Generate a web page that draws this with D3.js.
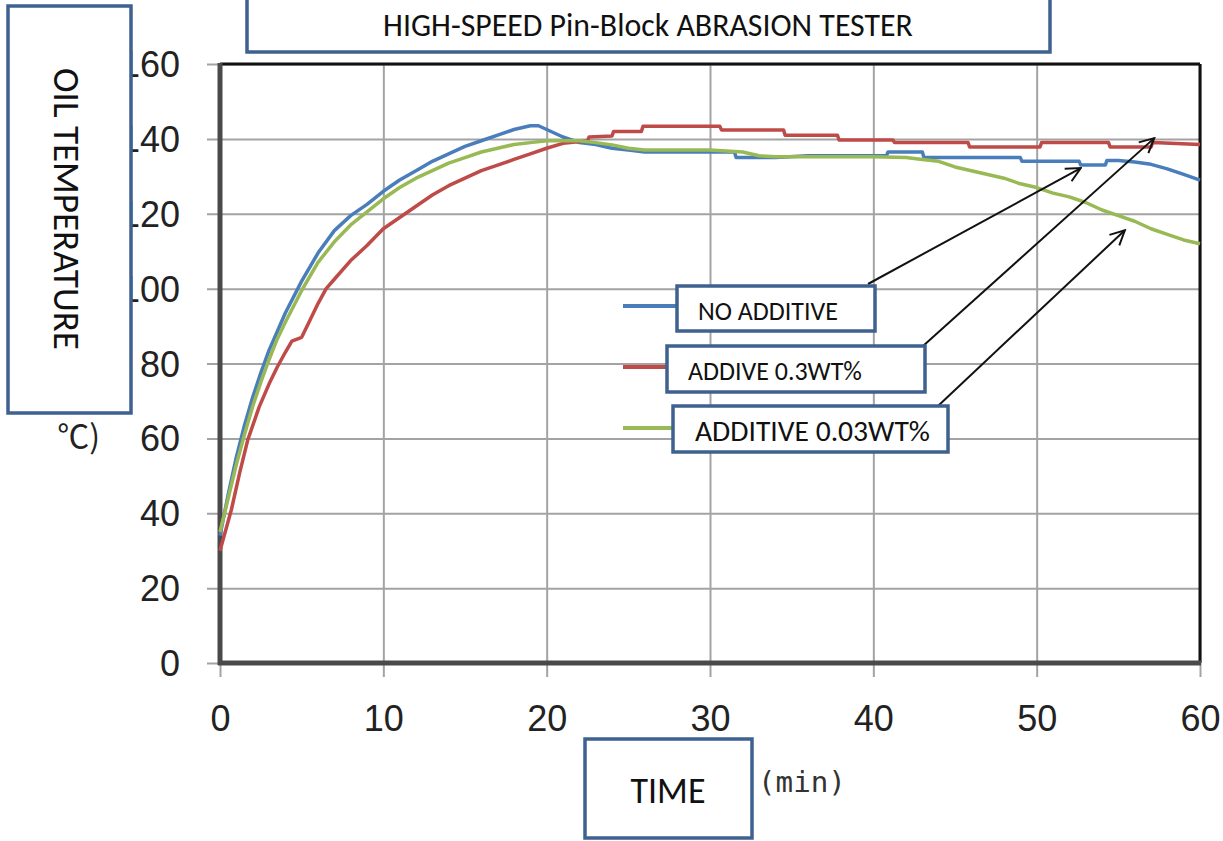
<!DOCTYPE html>
<html>
<head>
<meta charset="utf-8">
<script src="https://cdn.jsdelivr.net/npm/d3@7"></script>
<style>
  html, body { margin: 0; padding: 0; background: #fff; }
  svg { display: block; }
</style>
</head>
<body>
<svg id="chart" width="1223" height="841"></svg>
<script>
// ---------------- DATA ----------------
const title = "HIGH-SPEED Pin-Block ABRASION TESTER";
const yLabel = "OIL TEMPERATURE";
const yUnit = "℃)";
const xLabel = "TIME";
const xUnit = "(min)";
const xTicks = [0, 10, 20, 30, 40, 50, 60];
const yTicks = [0, 20, 40, 60, 80, 100, 120, 140, 160];
const seriesNames = ["NO ADDITIVE", "ADDIVE 0.3WT%", "ADDITIVE 0.03WT%"];

const noAdditiveT = [0,0.5,1,1.5,2,2.5,3,3.5,4,5,6,7,8,9,10,11,12,13,14,15,16,17,18,19,19.5,20,21,22,23,24,25,26,28,30,31.5,31.6,34,36,38,40.8,40.9,43,43.1,49,49.1,52.6,52.7,54.2,54.3,55,56,57,58,59,60];
const noAdditiveV = [34,45,55,63.5,71,77.5,83.5,88.5,93.5,102,109.5,115.5,119.5,122.5,126,129,131.5,134,136,138,139.5,141,142.5,143.5,143.5,142.5,140.5,139,138.5,137.5,137,136.5,136.5,136.5,136.5,135,135,135.5,135.5,135.5,136.5,136.5,135,135,134,134,133,133,134.2,134.2,133.8,133.2,132,130.5,129];

const add03T = [0,0.7,1.2,1.7,2.4,3,3.5,4,4.4,5,5.5,6,6.5,7,8,9,10,11,12,13,14,15,16,17,18,19,20,21,22.5,22.6,24,24.1,25.8,25.9,30.6,30.7,34.5,34.6,37.8,37.9,41.2,41.3,45.8,45.9,50.2,50.3,54.4,54.5,57,57.1,60];
const add03V = [30,41,50.7,59.6,68.4,74.5,79,83,86,87,91.5,96,100,102.5,107.5,111.5,116,119,122,125,127.5,129.5,131.5,133,134.5,136,137.5,138.8,139.5,140.5,140.8,142,142,143.4,143.4,142.4,142.4,141,141,139.7,139.7,139,139,137.8,137.8,139,139,137.8,137.8,139,138.5];

const add003T = [0,0.5,1,1.5,2,2.5,3,3.5,4,5,6,7,8,9,10,11,12,13,14,15,16,17,18,19,20,21,22,23,24,25,26,28,30,32,33,34,36,38,40,42,43,44,45,46,47,48,49,50,51,52,53,54,55,56,57,58,59,60];
const add003V = [35,44,53,61,68.5,75,81,86.5,91,99.5,107,112.5,117,120.5,124,127,129.5,131.5,133.5,135,136.5,137.5,138.5,139,139.5,139.5,139.5,139,138.4,137.5,137,137,137,136.5,135.5,135.2,135.2,135.2,135.2,135,134.5,134,132.5,131.5,130.5,129.5,128,127,125.5,124.5,123,121,119.5,118,116,114.5,113,112];

// arrow targets in data units [time, temperature]
const arrowTargets = [[52.7, 132.2], [57.2, 140.2], [55.4, 115.6]];

const colors = ["#4a7ebb", "#be4b48", "#98b954"];
const boxColor = "#3e6190";

// ---------------- LAYOUT ----------------
const svg = d3.select("#chart");
const x = d3.scaleLinear().domain([0, 60]).range([220, 1200]);
const y = d3.scaleLinear().domain([0, 160]).range([663, 64]);

const series = [
  noAdditiveT.map((t, i) => [t, noAdditiveV[i]]),
  add03T.map((t, i) => [t, add03V[i]]),
  add003T.map((t, i) => [t, add003V[i]])
];

// gridlines + ticks
const gx = svg.append("g")
  .attr("transform", `translate(0,${y(0)})`)
  .call(d3.axisBottom(x).tickValues(xTicks).tickSize(-(y(0) - y(160))).tickSizeOuter(0).tickFormat(d3.format("d")).tickPadding(0));
gx.select(".domain").remove();
gx.selectAll(".tick line").attr("stroke", "#a3a3a3").attr("stroke-width", 2).attr("y2", -(y(0) - y(160))).attr("y1", 14);
gx.selectAll(".tick text").attr("font-family", "Liberation Sans, Arial, sans-serif").attr("font-size", 36).attr("fill", "#222").attr("dy", "0.71em").attr("y", 42);

const gy = svg.append("g")
  .attr("transform", `translate(${x(0)},0)`)
  .call(d3.axisLeft(y).tickValues(yTicks).tickSize(-(x(60) - x(0))).tickSizeOuter(0).tickFormat(d3.format("d")));
gy.select(".domain").remove();
gy.selectAll(".tick line").attr("stroke", "#a3a3a3").attr("stroke-width", 2).attr("x1", -13);
gy.selectAll(".tick text").attr("font-family", "Liberation Sans, Arial, sans-serif").attr("font-size", 36).attr("fill", "#222").attr("x", -40).attr("dy", "0.35em");

// frame
svg.append("line").attr("x1", x(0)).attr("x2", x(60)).attr("y1", y(160)).attr("y2", y(160)).attr("stroke", "#111").attr("stroke-width", 3);
svg.append("line").attr("x1", x(60)).attr("x2", x(60)).attr("y1", y(160)).attr("y2", y(0)).attr("stroke", "#111").attr("stroke-width", 3);
svg.append("line").attr("x1", x(0)).attr("x2", x(0)).attr("y1", y(160) - 1).attr("y2", y(0) + 2).attr("stroke", "#4a4a4a").attr("stroke-width", 5);
svg.append("line").attr("x1", x(0) - 2).attr("x2", x(60) + 1).attr("y1", y(0)).attr("y2", y(0)).attr("stroke", "#4a4a4a").attr("stroke-width", 5);

// series
const line = d3.line().x(d => x(d[0])).y(d => y(d[1])).curve(d3.curveLinear);
series.forEach((s, i) => {
  svg.append("path").datum(s).attr("d", line).attr("fill", "none")
    .attr("stroke", colors[i]).attr("stroke-width", 3.5).attr("stroke-linejoin", "round");
});

// legend swatches
const legendY = [306, 367, 428];
legendY.forEach((ly, i) => {
  svg.append("line").attr("x1", 623).attr("x2", 700).attr("y1", ly).attr("y2", ly)
    .attr("stroke", colors[i]).attr("stroke-width", 4);
});

// arrows
const defs = svg.append("defs");
defs.append("marker").attr("id", "arr").attr("viewBox", "0 0 20 20").attr("refX", 18).attr("refY", 10)
  .attr("markerWidth", 18).attr("markerHeight", 18).attr("markerUnits", "userSpaceOnUse").attr("orient", "auto")
  .append("path").attr("d", "M2,2 L18,10 L2,18").attr("fill", "none").attr("stroke", "#111").attr("stroke-width", 2.2);
const arrowStarts = [[868, 284], [923, 346], [938, 406]];
arrowTargets.forEach((tg, i) => {
  svg.append("line").attr("x1", arrowStarts[i][0]).attr("y1", arrowStarts[i][1])
    .attr("x2", x(tg[0])).attr("y2", y(tg[1]))
    .attr("stroke", "#111").attr("stroke-width", 2).attr("marker-end", "url(#arr)");
});

// boxes
function box(x0, y0, x1, y1) {
  svg.append("rect").attr("x", x0).attr("y", y0).attr("width", x1 - x0).attr("height", y1 - y0)
    .attr("fill", "#fff").attr("stroke", boxColor).attr("stroke-width", 3.5);
}
const labelFont = "Carlito, Lato, 'Open Sans', sans-serif";
function fit(sel, w) {
  const l = sel.node().getComputedTextLength();
  const fs = parseFloat(sel.attr("font-size"));
  sel.attr("font-size", fs * w / l);
}

box(247, -6, 1050, 52);
fit(svg.append("text").attr("x", 648).attr("y", 25).attr("text-anchor", "middle").attr("dy", "0.35em")
  .attr("font-family", labelFont).attr("font-size", 24).attr("fill", "#111").text(title), 530);

box(8, 6, 131, 413);
fit(svg.append("text").attr("transform", "translate(67,209) rotate(90)").attr("text-anchor", "middle").attr("dy", "0.35em")
  .attr("font-family", labelFont).attr("font-size", 30).attr("fill", "#111").text(yLabel), 282);

// legend boxes
const legendBoxes = [[677, 286, 875, 331], [667, 346, 925, 392], [673, 406, 948, 452]];
const legendTextX = [698, 688, 695];
const legendTextW = [140, 174, 235];
legendBoxes.forEach((b, i) => {
  box(b[0], b[1], b[2], b[3]);
  fit(svg.append("text").attr("x", legendTextX[i]).attr("y", (b[1] + b[3]) / 2 + 2).attr("dy", "0.35em")
    .attr("font-family", labelFont).attr("font-size", 20).attr("fill", "#111").text(seriesNames[i]), legendTextW[i]);
});

box(585, 739, 752, 838);
fit(svg.append("text").attr("x", 668).attr("y", 790).attr("text-anchor", "middle").attr("dy", "0.35em")
  .attr("font-family", labelFont).attr("font-size", 30).attr("fill", "#111").text(xLabel), 75);

fit(svg.append("text").attr("x", 758).attr("y", 782).attr("dy", "0.35em")
  .attr("font-family", "'DejaVu Sans Mono', monospace").attr("font-size", 28).attr("fill", "#333").text(xUnit), 88);

svg.append("text").attr("x", 100).attr("y", 437).attr("text-anchor", "end").attr("dy", "0.35em")
  .attr("font-family", "'Noto Sans CJK JP', sans-serif").attr("font-size", 32).attr("fill", "#222").text(yUnit);
</script>
</body>
</html>
